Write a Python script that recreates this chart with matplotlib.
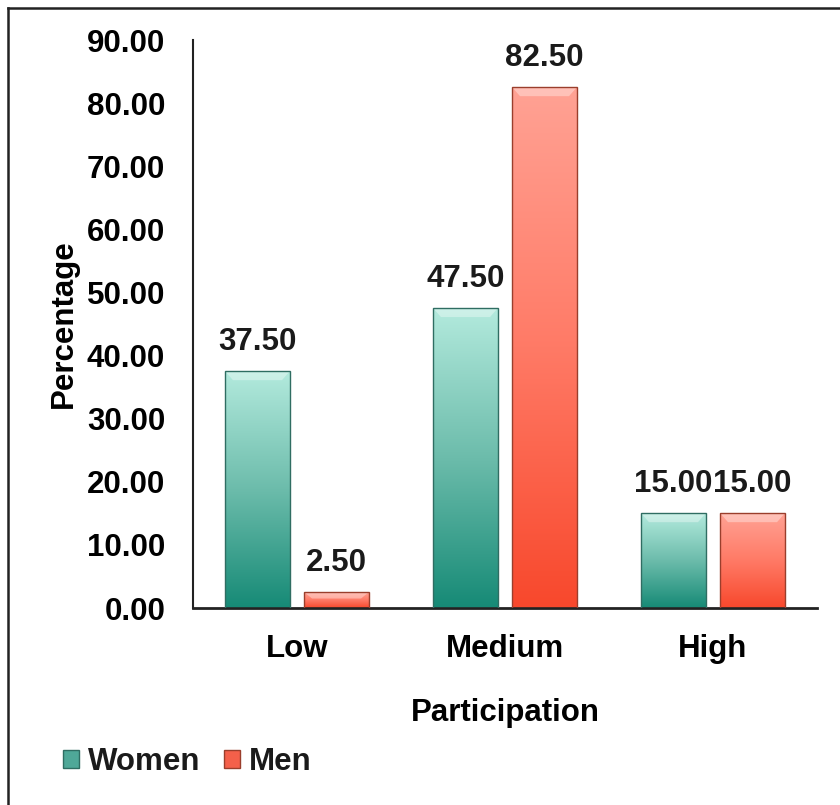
import numpy as np
import matplotlib
matplotlib.use("Agg")
import matplotlib.pyplot as plt
from matplotlib.colors import LinearSegmentedColormap
from matplotlib.patches import Patch, Polygon

plt.rcParams["font.family"] = ["Liberation Sans", "DejaVu Sans"]
plt.rcParams["font.weight"] = "bold"
plt.rcParams["text.color"] = "#1a1a1a"

# дані
categories = ["Low", "Medium", "High"]
women = [37.50, 47.50, 15.00]
men = [2.50, 82.50, 15.00]
series_names = ["Women", "Men"]

FS = 22.5
cmap_women = LinearSegmentedColormap.from_list("w", ["#168a76", "#6cbcab", "#b3eadd"])
cmap_men = LinearSegmentedColormap.from_list("m", ["#f8482c", "#ff7a66", "#ffa294"])

fig = plt.figure(figsize=(8.4, 8.05), dpi=100)
ax = fig.add_axes([193 / 840, 1 - 608 / 805, 624 / 840, 568 / 805])

x = np.arange(len(categories))
width = 0.31
grad = np.linspace(0, 1, 256).reshape(-1, 1)


def gradient_bars(xpos, values, cmap, edge):
    bars = ax.bar(xpos, values, width, facecolor="none", edgecolor=edge, linewidth=1.0, zorder=3)
    for b in bars:
        x0, y0 = b.get_x(), b.get_y()
        w, h = b.get_width(), b.get_height()
        im = ax.imshow(grad, extent=[x0, x0 + w, y0, y0 + h], origin="lower",
                       aspect="auto", cmap=cmap, zorder=2, interpolation="bilinear")
        im.set_clip_path(b)
        # світлий скіс зверху
        d = min(1.4, h * 0.4)
        dx = w * 0.12
        ax.add_patch(Polygon([[x0, y0 + h], [x0 + w, y0 + h], [x0 + w - dx, y0 + h - d],
                              [x0 + dx, y0 + h - d]], closed=True,
                             facecolor="white", alpha=0.35, edgecolor="none", zorder=2.5))
        ax.text(x0 + w / 2, y0 + h + 2.2, f"{h:.2f}", ha="center", va="bottom",
                fontsize=FS, fontweight="bold", zorder=4)
    return bars


gradient_bars(x - 0.19, women, cmap_women, "#2f6d62")
gradient_bars(x + 0.19, men, cmap_men, "#9a3e2c")

ax.set_xlim(-0.5, 2.5)
ax.set_ylim(0, 90)
ax.set_yticks(np.arange(0, 91, 10))
ax.set_yticklabels([f"{v:.2f}" for v in np.arange(0, 91, 10)])
ax.set_xticks(x)
ax.set_xticklabels(categories)
ax.tick_params(axis="both", length=0, labelsize=FS)
ax.tick_params(axis="y", pad=20)
ax.tick_params(axis="x", pad=19)
for lab in ax.get_xticklabels() + ax.get_yticklabels():
    lab.set_fontweight("bold")

for s in ["top", "right"]:
    ax.spines[s].set_visible(False)
ax.spines["left"].set_linewidth(1.5)
ax.spines["bottom"].set_linewidth(2)
ax.spines["left"].set_color("#222222")
ax.spines["bottom"].set_color("#222222")

ax.set_xlabel("Participation", fontsize=FS, fontweight="bold", labelpad=24)
ax.set_ylabel("Percentage", fontsize=FS, fontweight="bold", labelpad=6)

handles = [Patch(facecolor="#4fa898", edgecolor="#2f6d62"),
           Patch(facecolor="#f4604a", edgecolor="#9a3e2c")]
fig.legend(handles, series_names, loc="center left", bbox_to_anchor=(35 / 840, 1 - 762 / 805),
           ncol=2, frameon=False, prop={"size": FS, "weight": "bold"},
           handlelength=0.5, handleheight=0.5, handletextpad=0.3, columnspacing=0.75)

# рамка зліва і зверху
fig.add_artist(plt.Line2D([8 / 840, 8 / 840], [0, 1 - 8 / 805], color="#222222", lw=1.8))
fig.add_artist(plt.Line2D([8 / 840, 1], [1 - 8 / 805, 1 - 8 / 805], color="#222222", lw=1.8))

fig.savefig("out.png", dpi=100)
